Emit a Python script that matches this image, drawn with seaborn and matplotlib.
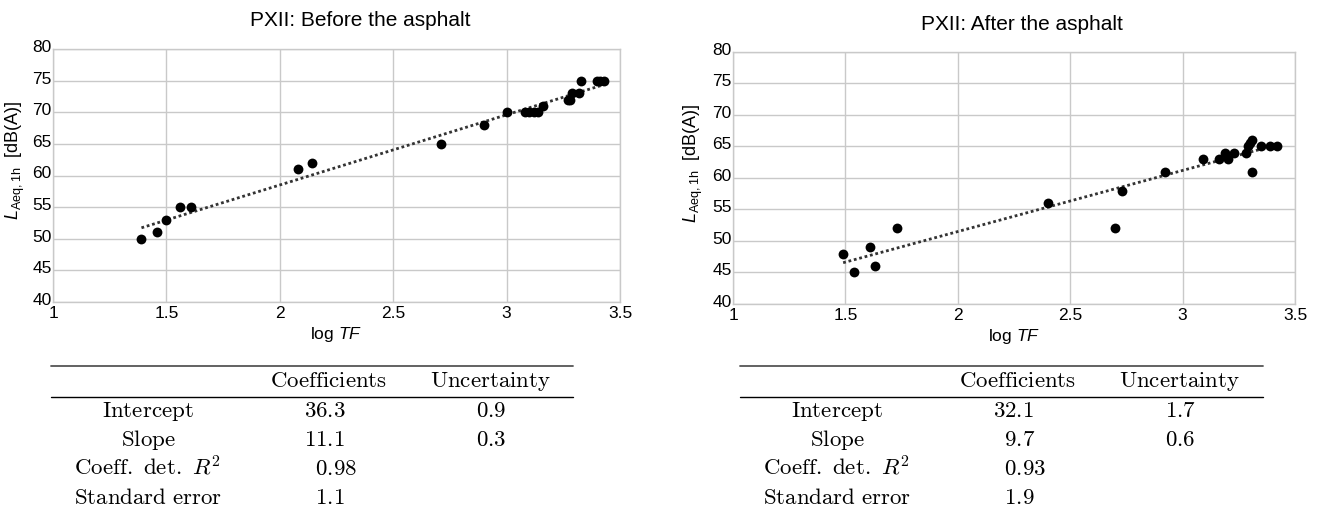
import matplotlib
matplotlib.use("Agg")
import matplotlib.pyplot as plt
import seaborn as sns
import numpy as np
import pandas as pd
from matplotlib.lines import Line2D
from matplotlib.transforms import ScaledTranslation

# ---------------- data ----------------
before_x = [1.39, 1.46, 1.50, 1.56, 1.61, 2.08, 2.14, 2.71, 2.90, 3.00,
            3.08, 3.10, 3.12, 3.14, 3.16, 3.27, 3.28, 3.29, 3.32, 3.33,
            3.40, 3.41, 3.43]
before_y = [50, 51, 53, 55, 55, 61, 62, 65, 68, 70,
            70, 70, 70, 70, 71, 72, 72, 73, 73, 75,
            75, 75, 75]

after_x = [1.49, 1.54, 1.61, 1.63, 1.73, 2.40, 2.70, 2.73, 2.92, 3.09,
           3.16, 3.19, 3.20, 3.23, 3.28, 3.29, 3.30, 3.31, 3.31, 3.35,
           3.39, 3.42]
after_y = [48, 45, 49, 46, 52, 56, 52, 58, 61, 63,
           63, 64, 63, 64, 64, 65, 65.5, 66, 61, 65,
           65, 65]

titles = ["PXII: Before the asphalt", "PXII: After the asphalt"]
row_labels = [r"$\mathrm{Intercept}$", r"$\mathrm{Slope}$",
              r"$\mathrm{Coeff.\ det.\ }R^2$", r"$\mathrm{Standard\ error}$"]
col_headers = ["Coefficients", "Uncertainty"]
before_coef = ["36.3", "11.1", "0.98", "1.1"]
before_unc = ["0.9", "0.3", "", ""]
after_coef = ["32.1", "9.7", "0.93", "1.9"]
after_unc = ["1.7", "0.6", "", ""]
before_intercept, before_slope = 36.3, 11.1
after_intercept, after_slope = 32.1, 9.7

x_ticks = [1, 1.5, 2, 2.5, 3, 3.5]
x_tick_labels = ["1", "1.5", "2", "2.5", "3", "3.5"]
y_ticks = [40, 45, 50, 55, 60, 65, 70, 75, 80]

# ---------------- style ----------------
sns.set_theme(style="whitegrid")
plt.rcParams["font.family"] = ["Liberation Sans", "DejaVu Sans"]
plt.rcParams["mathtext.fontset"] = "custom"
plt.rcParams["mathtext.rm"] = "Liberation Sans"
plt.rcParams["mathtext.it"] = "Liberation Sans:italic"
plt.rcParams["mathtext.bf"] = "Liberation Sans:bold"

W, H = 1322, 512
fig = plt.figure(figsize=(W / 100, H / 100), dpi=100)

def fx(px):
    return px / W

def fy(py):
    return 1 - py / H

grid_col = "#c9c9c9"

panels = [
    dict(x=before_x, y=before_y, a=before_intercept, b=before_slope,
         rect=(53, 49, 620, 302), title=titles[0], title_y=21, title_x=360,
         coef=before_coef, unc=before_unc, tab=(51, 573), ylab=(15, 160)),
    dict(x=after_x, y=after_y, a=after_intercept, b=after_slope,
         rect=(733, 52, 1295, 304), title=titles[1], title_y=24, title_x=1022,
         coef=after_coef, unc=after_unc, tab=(740, 1263), ylab=(693, 163)),
]

for p in panels:
    l, t, r, b = p["rect"]
    ax = fig.add_axes([fx(l), fy(b), fx(r) - fx(l), fy(t) - fy(b)])
    df = pd.DataFrame({"x": p["x"], "y": p["y"]})
    xs = np.array([min(p["x"]), max(p["x"])])
    line_df = pd.DataFrame({"x": xs, "y": p["a"] + p["b"] * xs})
    sns.lineplot(data=line_df, x="x", y="y", ax=ax, color="#333333",
                 linewidth=2.0, linestyle=(0, (1, 1)), zorder=2)
    sns.scatterplot(data=df, x="x", y="y", ax=ax, color="black", s=50,
                    edgecolor="black", linewidth=0, zorder=3)
    ax.set_xlim(1, 3.5)
    ax.set_ylim(40, 80)
    ax.set_xticks(x_ticks)
    ax.set_xticklabels(x_tick_labels)
    ax.set_yticks(y_ticks)
    ax.grid(True, color=grid_col, linewidth=1.0)
    for s in ax.spines.values():
        s.set_color(grid_col)
        s.set_linewidth(1.0)
    ax.tick_params(axis="both", length=0, labelsize=12.5, colors="black")
    ax.tick_params(axis="x", pad=3)
    ax.tick_params(axis="y", pad=1)
    shift = ScaledTranslation(0, 3 / 100, fig.dpi_scale_trans)
    for lab in ax.get_yticklabels():
        lab.set_transform(lab.get_transform() + shift)
    ax.set_xlabel(r"log $TF$", fontsize=12.5, labelpad=3, color="black")
    ax.set_ylabel(r"$L_{\mathrm{Aeq,1h}}$  [dB(A)]", fontsize=13, color="black")
    ax.yaxis.label.set_va("center")
    ax.yaxis.set_label_coords((p["ylab"][0] - l) / (r - l),
                              1 - (p["ylab"][1] - t) / (b - t))
    fig.text(fx(p["title_x"]), fy(p["title_y"]), p["title"], fontsize=15,
             ha="center", va="center", color="black")

    # ---- table ----
    tl, tr = p["tab"]
    fig.add_artist(Line2D([fx(tl), fx(tr)], [fy(366), fy(366)],
                          color="#555555", linewidth=1.3))
    fig.add_artist(Line2D([fx(tl), fx(tr)], [fy(397), fy(397)],
                          color="black", linewidth=1.0))
    tk = dict(fontsize=16.5, math_fontfamily="cm", color="black")
    lab_x = tl + 97
    coef_x = tl + 278
    dec_x = tl + 282
    unc_x = tl + 440
    fig.text(fx(coef_x), fy(387), r"$\mathrm{%s}$" % col_headers[0],
             ha="center", va="baseline", **tk)
    fig.text(fx(unc_x), fy(387), r"$\mathrm{%s}$" % col_headers[1],
             ha="center", va="baseline", **tk)
    base = [417, 446, 475, 504]
    for i, lab in enumerate(row_labels):
        yb = fy(base[i])
        fig.text(fx(lab_x), yb, lab, ha="center", va="baseline", **tk)
        ip, fp = p["coef"][i].split(".")
        fig.text(fx(dec_x), yb, r"$\mathrm{%s.}$" % ip, ha="right",
                 va="baseline", **tk)
        fig.text(fx(dec_x), yb, r"$\mathrm{%s}$" % fp, ha="left",
                 va="baseline", **tk)
        if p["unc"][i]:
            fig.text(fx(unc_x), yb, r"$\mathrm{%s}$" % p["unc"][i],
                     ha="center", va="baseline", **tk)

fig.savefig("out.png", dpi=100)
